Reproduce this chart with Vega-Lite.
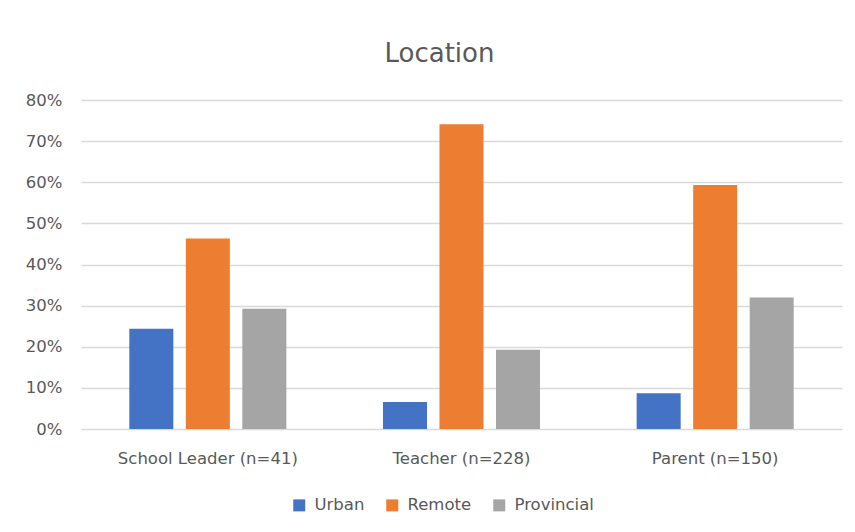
{
  "$schema": "https://vega.github.io/schema/vega-lite/v6.json",
  "width": 761,
  "height": 329,
  "autosize": {"type": "none"},
  "padding": {"left": 81, "top": 100, "right": 13, "bottom": 103},
  "background": "white",
  "title": {
    "text": "Location",
    "fontSize": 26,
    "font": "DejaVu Sans",
    "fontWeight": "normal",
    "color": "#595959",
    "anchor": "middle",
    "dx": -22,
    "offset": 4,
    "baseline": "alphabetic"
  },
  "data": {
    "values": [
      {"role": "School Leader (n=41)", "loc": "Urban", "pct": 0.2439},
      {"role": "School Leader (n=41)", "loc": "Remote", "pct": 0.4634},
      {"role": "School Leader (n=41)", "loc": "Provincial", "pct": 0.2927},
      {"role": "Teacher (n=228)", "loc": "Urban", "pct": 0.0658},
      {"role": "Teacher (n=228)", "loc": "Remote", "pct": 0.7412},
      {"role": "Teacher (n=228)", "loc": "Provincial", "pct": 0.193},
      {"role": "Parent (n=150)", "loc": "Urban", "pct": 0.0867},
      {"role": "Parent (n=150)", "loc": "Remote", "pct": 0.5933},
      {"role": "Parent (n=150)", "loc": "Provincial", "pct": 0.32}
    ]
  },
  "mark": {"type": "bar"},
  "encoding": {
    "x": {
      "field": "role",
      "type": "nominal",
      "sort": ["School Leader (n=41)", "Teacher (n=228)", "Parent (n=150)"],
      "scale": {"paddingInner": 0, "paddingOuter": 0},
      "axis": {
        "title": null,
        "labelAngle": 0,
        "domain": false,
        "ticks": false,
        "tickSize": 0,
        "labelPadding": 21,
        "labelFontSize": 16.5,
        "labelFont": "DejaVu Sans",
        "labelColor": "#595959"
      }
    },
    "xOffset": {
      "field": "loc",
      "type": "nominal",
      "sort": ["Urban", "Remote", "Provincial"],
      "scale": {"paddingInner": 0.221, "paddingOuter": 0.855}
    },
    "y": {
      "field": "pct",
      "type": "quantitative",
      "scale": {"domain": [0, 0.8]},
      "axis": {
        "title": null,
        "format": ".0%",
        "values": [0, 0.1, 0.2, 0.3, 0.4, 0.5, 0.6, 0.7, 0.8],
        "domain": false,
        "ticks": false,
        "tickSize": 0,
        "labelPadding": 19,
        "labelFontSize": 16.5,
        "labelFont": "DejaVu Sans",
        "labelColor": "#595959",
        "gridColor": "#d9d9d9",
        "gridWidth": 1.3
      }
    },
    "color": {
      "field": "loc",
      "type": "nominal",
      "scale": {"domain": ["Urban", "Remote", "Provincial"], "range": ["#4472C4", "#ED7D31", "#A5A5A5"]},
      "legend": {
        "title": null,
        "orient": "none",
        "direction": "horizontal",
        "legendX": 210,
        "legendY": 397,
        "symbolType": "square",
        "symbolSize": 144,
        "symbolStrokeWidth": 0,
        "labelFontSize": 16.5,
        "labelFont": "DejaVu Sans",
        "labelColor": "#595959",
        "columnPadding": 19,
        "labelOffset": 7
      }
    }
  },
  "config": {"view": {"stroke": null}}
}
